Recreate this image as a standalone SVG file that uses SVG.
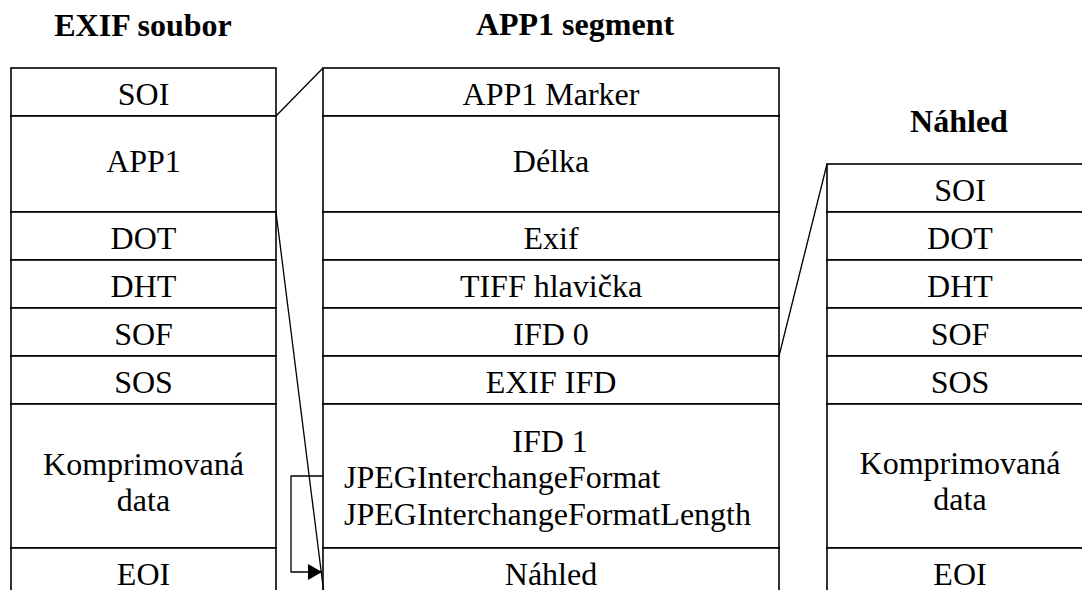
<svg xmlns="http://www.w3.org/2000/svg" width="1082" height="590" viewBox="0 0 1082 590">
  <defs>
    <style>
      .cell { fill: #ffffff; stroke: #000000; stroke-width: 1.6; }
      .lbl { font-family: "Liberation Serif", "Times New Roman", serif; font-size: 32px; fill: #000000; text-anchor: middle; }
      .lbl-l { font-family: "Liberation Serif", "Times New Roman", serif; font-size: 32px; fill: #000000; text-anchor: start; }
      .title { font-family: "Liberation Serif", "Times New Roman", serif; font-size: 32px; font-weight: bold; fill: #000000; text-anchor: middle; }
      .link { fill: none; stroke: #000000; stroke-width: 1.3; }
    </style>
    <marker id="arrow" markerUnits="userSpaceOnUse" markerWidth="16" markerHeight="16" refX="14" refY="8" orient="auto">
      <path d="M0,0 L14,8 L0,16 Z" fill="#000000"/>
    </marker>
  </defs>

  <rect width="1082" height="590" fill="#ffffff"/>

  <!-- column headings -->
  <text class="title" x="143" y="36">EXIF soubor</text>
  <text class="title" x="575" y="35">APP1 segment</text>
  <text class="title" x="959" y="132">Náhled</text>

  <!-- EXIF file structure -->
  <g id="exif-soi"><rect class="cell" x="11" y="68" width="265" height="48"/><text class="lbl" x="143.5" y="105">SOI</text></g>
  <g id="exif-app1"><rect class="cell" x="11" y="116" width="265" height="96"/><text class="lbl" x="143.5" y="172">APP1</text></g>
  <g id="exif-dot"><rect class="cell" x="11" y="212" width="265" height="48"/><text class="lbl" x="143.5" y="249">DOT</text></g>
  <g id="exif-dht"><rect class="cell" x="11" y="260" width="265" height="48"/><text class="lbl" x="143.5" y="297">DHT</text></g>
  <g id="exif-sof"><rect class="cell" x="11" y="308" width="265" height="48"/><text class="lbl" x="143.5" y="345">SOF</text></g>
  <g id="exif-sos"><rect class="cell" x="11" y="356" width="265" height="48"/><text class="lbl" x="143.5" y="393">SOS</text></g>
  <g id="exif-data"><rect class="cell" x="11" y="404" width="265" height="144"/><text class="lbl" x="143.5" y="475">Komprimovaná</text><text class="lbl" x="143.5" y="511">data</text></g>
  <g id="exif-eoi"><rect class="cell" x="11" y="548" width="265" height="48"/><text class="lbl" x="143.5" y="585">EOI</text></g>

  <!-- APP1 segment structure -->
  <g id="app1-marker"><rect class="cell" x="323" y="68" width="456" height="48"/><text class="lbl" x="551" y="105">APP1 Marker</text></g>
  <g id="app1-length"><rect class="cell" x="323" y="116" width="456" height="96"/><text class="lbl" x="551" y="172">Délka</text></g>
  <g id="app1-exif"><rect class="cell" x="323" y="212" width="456" height="48"/><text class="lbl" x="551" y="249">Exif</text></g>
  <g id="app1-tiff"><rect class="cell" x="323" y="260" width="456" height="48"/><text class="lbl" x="551" y="297">TIFF hlavička</text></g>
  <g id="app1-ifd0"><rect class="cell" x="323" y="308" width="456" height="48"/><text class="lbl" x="551" y="345">IFD 0</text></g>
  <g id="app1-exififd"><rect class="cell" x="323" y="356" width="456" height="48"/><text class="lbl" x="551" y="393">EXIF IFD</text></g>
  <g id="app1-ifd1"><rect class="cell" x="323" y="404" width="456" height="144"/><text class="lbl" x="550" y="452">IFD 1</text><text class="lbl-l" x="344" y="488">JPEGInterchangeFormat</text><text class="lbl-l" x="344" y="525">JPEGInterchangeFormatLength</text></g>
  <g id="app1-thumb"><rect class="cell" x="323" y="548" width="456" height="48"/><text class="lbl" x="551" y="585">Náhled</text></g>

  <!-- thumbnail structure -->
  <g id="thumb-soi"><rect class="cell" x="827" y="164" width="266" height="48"/><text class="lbl" x="960" y="201">SOI</text></g>
  <g id="thumb-dot"><rect class="cell" x="827" y="212" width="266" height="48"/><text class="lbl" x="960" y="249">DOT</text></g>
  <g id="thumb-dht"><rect class="cell" x="827" y="260" width="266" height="48"/><text class="lbl" x="960" y="297">DHT</text></g>
  <g id="thumb-sof"><rect class="cell" x="827" y="308" width="266" height="48"/><text class="lbl" x="960" y="345">SOF</text></g>
  <g id="thumb-sos"><rect class="cell" x="827" y="356" width="266" height="48"/><text class="lbl" x="960" y="393">SOS</text></g>
  <g id="thumb-data"><rect class="cell" x="827" y="404" width="266" height="144"/><text class="lbl" x="960" y="474">Komprimovaná</text><text class="lbl" x="960" y="510">data</text></g>
  <g id="thumb-eoi"><rect class="cell" x="827" y="548" width="266" height="48"/><text class="lbl" x="960" y="585">EOI</text></g>

  <!-- expansion lines and pointer -->
  <g id="connectors">
    <line class="link" x1="276" y1="116" x2="323" y2="68"/>
    <line class="link" x1="276" y1="212" x2="323.5" y2="590"/>
    <line class="link" x1="779" y1="356" x2="827" y2="164"/>
    <polyline class="link" points="323,476 291,476 291,572 322,572" marker-end="url(#arrow)"/>
  </g>
</svg>
